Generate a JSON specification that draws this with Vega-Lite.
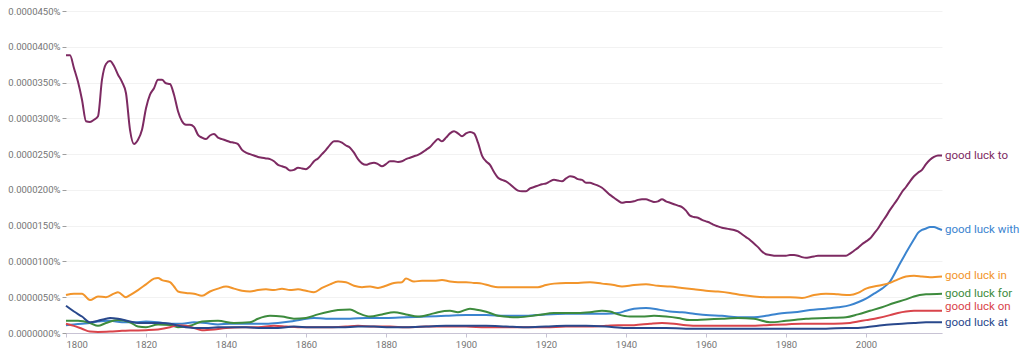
{
  "$schema": "https://vega.github.io/schema/vega-lite/v6.json",
  "width": 876,
  "height": 322,
  "autosize": "none",
  "padding": {"left": 66, "top": 11, "right": 82, "bottom": 18},
  "background": "white",
  "config": {
    "font": "Roboto",
    "view": {"stroke": null},
    "axis": {"labelFont": "Roboto", "labelColor": "#757575", "labelFontSize": 9.5, "titleFontSize": 0}
  },
  "data": {"values": [
{"n":"good luck to","y":1800,"v":0.0000388},{"n":"good luck to","y":1801,"v":0.0000388},{"n":"good luck to","y":1802,"v":0.0000370},{"n":"good luck to","y":1803,"v":0.0000351},{"n":"good luck to","y":1804,"v":0.0000326},{"n":"good luck to","y":1805,"v":0.0000296},{"n":"good luck to","y":1806,"v":0.0000295},{"n":"good luck to","y":1807,"v":0.0000298},{"n":"good luck to","y":1808,"v":0.0000303},{"n":"good luck to","y":1809,"v":0.0000354},{"n":"good luck to","y":1810,"v":0.0000376},{"n":"good luck to","y":1811,"v":0.0000380},{"n":"good luck to","y":1812,"v":0.0000373},{"n":"good luck to","y":1813,"v":0.0000361},{"n":"good luck to","y":1814,"v":0.0000351},{"n":"good luck to","y":1815,"v":0.0000335},{"n":"good luck to","y":1816,"v":0.0000284},{"n":"good luck to","y":1817,"v":0.0000264},{"n":"good luck to","y":1818,"v":0.0000270},{"n":"good luck to","y":1819,"v":0.0000284},{"n":"good luck to","y":1820,"v":0.0000314},{"n":"good luck to","y":1821,"v":0.0000333},{"n":"good luck to","y":1822,"v":0.0000342},{"n":"good luck to","y":1823,"v":0.0000354},{"n":"good luck to","y":1824,"v":0.0000354},{"n":"good luck to","y":1825,"v":0.0000349},{"n":"good luck to","y":1826,"v":0.0000348},{"n":"good luck to","y":1827,"v":0.0000333},{"n":"good luck to","y":1828,"v":0.0000310},{"n":"good luck to","y":1829,"v":0.0000296},{"n":"good luck to","y":1830,"v":0.0000291},{"n":"good luck to","y":1831,"v":0.0000291},{"n":"good luck to","y":1832,"v":0.0000288},{"n":"good luck to","y":1833,"v":0.0000277},{"n":"good luck to","y":1834,"v":0.0000273},{"n":"good luck to","y":1835,"v":0.0000271},{"n":"good luck to","y":1836,"v":0.0000276},{"n":"good luck to","y":1837,"v":0.0000278},{"n":"good luck to","y":1838,"v":0.0000273},{"n":"good luck to","y":1839,"v":0.0000271},{"n":"good luck to","y":1840,"v":0.0000269},{"n":"good luck to","y":1841,"v":0.0000267},{"n":"good luck to","y":1842,"v":0.0000266},{"n":"good luck to","y":1843,"v":0.0000264},{"n":"good luck to","y":1844,"v":0.0000256},{"n":"good luck to","y":1845,"v":0.0000252},{"n":"good luck to","y":1846,"v":0.0000250},{"n":"good luck to","y":1847,"v":0.0000248},{"n":"good luck to","y":1848,"v":0.0000246},{"n":"good luck to","y":1849,"v":0.0000245},{"n":"good luck to","y":1850,"v":0.0000244},{"n":"good luck to","y":1851,"v":0.0000243},{"n":"good luck to","y":1852,"v":0.0000240},{"n":"good luck to","y":1853,"v":0.0000235},{"n":"good luck to","y":1854,"v":0.0000233},{"n":"good luck to","y":1855,"v":0.0000231},{"n":"good luck to","y":1856,"v":0.0000227},{"n":"good luck to","y":1857,"v":0.0000228},{"n":"good luck to","y":1858,"v":0.0000231},{"n":"good luck to","y":1859,"v":0.0000230},{"n":"good luck to","y":1860,"v":0.0000229},{"n":"good luck to","y":1861,"v":0.0000233},{"n":"good luck to","y":1862,"v":0.0000240},{"n":"good luck to","y":1863,"v":0.0000244},{"n":"good luck to","y":1864,"v":0.0000250},{"n":"good luck to","y":1865,"v":0.0000256},{"n":"good luck to","y":1866,"v":0.0000263},{"n":"good luck to","y":1867,"v":0.0000268},{"n":"good luck to","y":1868,"v":0.0000268},{"n":"good luck to","y":1869,"v":0.0000266},{"n":"good luck to","y":1870,"v":0.0000262},{"n":"good luck to","y":1871,"v":0.0000259},{"n":"good luck to","y":1872,"v":0.0000252},{"n":"good luck to","y":1873,"v":0.0000243},{"n":"good luck to","y":1874,"v":0.0000237},{"n":"good luck to","y":1875,"v":0.0000235},{"n":"good luck to","y":1876,"v":0.0000237},{"n":"good luck to","y":1877,"v":0.0000238},{"n":"good luck to","y":1878,"v":0.0000236},{"n":"good luck to","y":1879,"v":0.0000233},{"n":"good luck to","y":1880,"v":0.0000236},{"n":"good luck to","y":1881,"v":0.0000240},{"n":"good luck to","y":1882,"v":0.0000240},{"n":"good luck to","y":1883,"v":0.0000239},{"n":"good luck to","y":1884,"v":0.0000240},{"n":"good luck to","y":1885,"v":0.0000243},{"n":"good luck to","y":1886,"v":0.0000245},{"n":"good luck to","y":1887,"v":0.0000247},{"n":"good luck to","y":1888,"v":0.0000249},{"n":"good luck to","y":1889,"v":0.0000252},{"n":"good luck to","y":1890,"v":0.0000256},{"n":"good luck to","y":1891,"v":0.0000260},{"n":"good luck to","y":1892,"v":0.0000266},{"n":"good luck to","y":1893,"v":0.0000271},{"n":"good luck to","y":1894,"v":0.0000268},{"n":"good luck to","y":1895,"v":0.0000273},{"n":"good luck to","y":1896,"v":0.0000279},{"n":"good luck to","y":1897,"v":0.0000282},{"n":"good luck to","y":1898,"v":0.0000279},{"n":"good luck to","y":1899,"v":0.0000275},{"n":"good luck to","y":1900,"v":0.0000279},{"n":"good luck to","y":1901,"v":0.0000281},{"n":"good luck to","y":1902,"v":0.0000279},{"n":"good luck to","y":1903,"v":0.0000266},{"n":"good luck to","y":1904,"v":0.0000248},{"n":"good luck to","y":1905,"v":0.0000240},{"n":"good luck to","y":1906,"v":0.0000235},{"n":"good luck to","y":1907,"v":0.0000225},{"n":"good luck to","y":1908,"v":0.0000217},{"n":"good luck to","y":1909,"v":0.0000214},{"n":"good luck to","y":1910,"v":0.0000212},{"n":"good luck to","y":1911,"v":0.0000208},{"n":"good luck to","y":1912,"v":0.0000203},{"n":"good luck to","y":1913,"v":0.0000199},{"n":"good luck to","y":1914,"v":0.0000198},{"n":"good luck to","y":1915,"v":0.0000198},{"n":"good luck to","y":1916,"v":0.0000202},{"n":"good luck to","y":1917,"v":0.0000204},{"n":"good luck to","y":1918,"v":0.0000206},{"n":"good luck to","y":1919,"v":0.0000208},{"n":"good luck to","y":1920,"v":0.0000209},{"n":"good luck to","y":1921,"v":0.0000212},{"n":"good luck to","y":1922,"v":0.0000214},{"n":"good luck to","y":1923,"v":0.0000213},{"n":"good luck to","y":1924,"v":0.0000212},{"n":"good luck to","y":1925,"v":0.0000216},{"n":"good luck to","y":1926,"v":0.0000219},{"n":"good luck to","y":1927,"v":0.0000218},{"n":"good luck to","y":1928,"v":0.0000215},{"n":"good luck to","y":1929,"v":0.0000214},{"n":"good luck to","y":1930,"v":0.0000210},{"n":"good luck to","y":1931,"v":0.0000210},{"n":"good luck to","y":1932,"v":0.0000208},{"n":"good luck to","y":1933,"v":0.0000206},{"n":"good luck to","y":1934,"v":0.0000203},{"n":"good luck to","y":1935,"v":0.0000198},{"n":"good luck to","y":1936,"v":0.0000193},{"n":"good luck to","y":1937,"v":0.0000189},{"n":"good luck to","y":1938,"v":0.0000185},{"n":"good luck to","y":1939,"v":0.0000182},{"n":"good luck to","y":1940,"v":0.0000183},{"n":"good luck to","y":1941,"v":0.0000183},{"n":"good luck to","y":1942,"v":0.0000184},{"n":"good luck to","y":1943,"v":0.0000186},{"n":"good luck to","y":1944,"v":0.0000187},{"n":"good luck to","y":1945,"v":0.0000187},{"n":"good luck to","y":1946,"v":0.0000185},{"n":"good luck to","y":1947,"v":0.0000183},{"n":"good luck to","y":1948,"v":0.0000184},{"n":"good luck to","y":1949,"v":0.0000187},{"n":"good luck to","y":1950,"v":0.0000184},{"n":"good luck to","y":1951,"v":0.0000182},{"n":"good luck to","y":1952,"v":0.0000180},{"n":"good luck to","y":1953,"v":0.0000178},{"n":"good luck to","y":1954,"v":0.0000176},{"n":"good luck to","y":1955,"v":0.0000171},{"n":"good luck to","y":1956,"v":0.0000164},{"n":"good luck to","y":1957,"v":0.0000162},{"n":"good luck to","y":1958,"v":0.0000161},{"n":"good luck to","y":1959,"v":0.0000158},{"n":"good luck to","y":1960,"v":0.0000156},{"n":"good luck to","y":1961,"v":0.0000154},{"n":"good luck to","y":1962,"v":0.0000151},{"n":"good luck to","y":1963,"v":0.0000149},{"n":"good luck to","y":1964,"v":0.0000147},{"n":"good luck to","y":1965,"v":0.0000146},{"n":"good luck to","y":1966,"v":0.0000145},{"n":"good luck to","y":1967,"v":0.0000144},{"n":"good luck to","y":1968,"v":0.0000142},{"n":"good luck to","y":1969,"v":0.0000138},{"n":"good luck to","y":1970,"v":0.0000134},{"n":"good luck to","y":1971,"v":0.0000130},{"n":"good luck to","y":1972,"v":0.0000125},{"n":"good luck to","y":1973,"v":0.0000120},{"n":"good luck to","y":1974,"v":0.0000114},{"n":"good luck to","y":1975,"v":0.0000110},{"n":"good luck to","y":1976,"v":0.0000109},{"n":"good luck to","y":1977,"v":0.0000108},{"n":"good luck to","y":1978,"v":0.0000108},{"n":"good luck to","y":1979,"v":0.0000108},{"n":"good luck to","y":1980,"v":0.0000108},{"n":"good luck to","y":1981,"v":0.0000109},{"n":"good luck to","y":1982,"v":0.0000109},{"n":"good luck to","y":1983,"v":0.0000108},{"n":"good luck to","y":1984,"v":0.0000106},{"n":"good luck to","y":1985,"v":0.0000105},{"n":"good luck to","y":1986,"v":0.0000106},{"n":"good luck to","y":1987,"v":0.0000107},{"n":"good luck to","y":1988,"v":0.0000108},{"n":"good luck to","y":1989,"v":0.0000108},{"n":"good luck to","y":1990,"v":0.0000108},{"n":"good luck to","y":1991,"v":0.0000108},{"n":"good luck to","y":1992,"v":0.0000108},{"n":"good luck to","y":1993,"v":0.0000108},{"n":"good luck to","y":1994,"v":0.0000108},{"n":"good luck to","y":1995,"v":0.0000108},{"n":"good luck to","y":1996,"v":0.0000111},{"n":"good luck to","y":1997,"v":0.0000115},{"n":"good luck to","y":1998,"v":0.0000119},{"n":"good luck to","y":1999,"v":0.0000124},{"n":"good luck to","y":2000,"v":0.0000128},{"n":"good luck to","y":2001,"v":0.0000132},{"n":"good luck to","y":2002,"v":0.0000139},{"n":"good luck to","y":2003,"v":0.0000146},{"n":"good luck to","y":2004,"v":0.0000155},{"n":"good luck to","y":2005,"v":0.0000163},{"n":"good luck to","y":2006,"v":0.0000172},{"n":"good luck to","y":2007,"v":0.0000180},{"n":"good luck to","y":2008,"v":0.0000188},{"n":"good luck to","y":2009,"v":0.0000197},{"n":"good luck to","y":2010,"v":0.0000204},{"n":"good luck to","y":2011,"v":0.0000212},{"n":"good luck to","y":2012,"v":0.0000219},{"n":"good luck to","y":2013,"v":0.0000224},{"n":"good luck to","y":2014,"v":0.0000228},{"n":"good luck to","y":2015,"v":0.0000236},{"n":"good luck to","y":2016,"v":0.0000242},{"n":"good luck to","y":2017,"v":0.0000246},{"n":"good luck to","y":2018,"v":0.0000248},{"n":"good luck to","y":2019,"v":0.0000248},
{"n":"good luck with","y":1800,"v":0.0000011},{"n":"good luck with","y":1802,"v":0.0000012},{"n":"good luck with","y":1804,"v":0.0000013},{"n":"good luck with","y":1806,"v":0.0000014},{"n":"good luck with","y":1808,"v":0.0000016},{"n":"good luck with","y":1811,"v":0.0000017},{"n":"good luck with","y":1814,"v":0.0000015},{"n":"good luck with","y":1817,"v":0.0000015},{"n":"good luck with","y":1820,"v":0.0000016},{"n":"good luck with","y":1823,"v":0.0000015},{"n":"good luck with","y":1826,"v":0.0000013},{"n":"good luck with","y":1829,"v":0.0000013},{"n":"good luck with","y":1832,"v":0.0000015},{"n":"good luck with","y":1835,"v":0.0000014},{"n":"good luck with","y":1838,"v":0.0000012},{"n":"good luck with","y":1841,"v":0.0000013},{"n":"good luck with","y":1844,"v":0.0000013},{"n":"good luck with","y":1847,"v":0.0000013},{"n":"good luck with","y":1850,"v":0.0000013},{"n":"good luck with","y":1853,"v":0.0000014},{"n":"good luck with","y":1856,"v":0.0000016},{"n":"good luck with","y":1859,"v":0.0000019},{"n":"good luck with","y":1862,"v":0.0000021},{"n":"good luck with","y":1865,"v":0.0000020},{"n":"good luck with","y":1868,"v":0.0000020},{"n":"good luck with","y":1871,"v":0.0000020},{"n":"good luck with","y":1875,"v":0.0000021},{"n":"good luck with","y":1880,"v":0.0000021},{"n":"good luck with","y":1885,"v":0.0000022},{"n":"good luck with","y":1890,"v":0.0000023},{"n":"good luck with","y":1895,"v":0.0000024},{"n":"good luck with","y":1900,"v":0.0000025},{"n":"good luck with","y":1905,"v":0.0000025},{"n":"good luck with","y":1910,"v":0.0000024},{"n":"good luck with","y":1915,"v":0.0000024},{"n":"good luck with","y":1920,"v":0.0000026},{"n":"good luck with","y":1925,"v":0.0000027},{"n":"good luck with","y":1930,"v":0.0000027},{"n":"good luck with","y":1935,"v":0.0000027},{"n":"good luck with","y":1938,"v":0.0000028},{"n":"good luck with","y":1940,"v":0.0000031},{"n":"good luck with","y":1942,"v":0.0000034},{"n":"good luck with","y":1945,"v":0.0000035},{"n":"good luck with","y":1948,"v":0.0000033},{"n":"good luck with","y":1951,"v":0.0000030},{"n":"good luck with","y":1954,"v":0.0000029},{"n":"good luck with","y":1957,"v":0.0000027},{"n":"good luck with","y":1960,"v":0.0000025},{"n":"good luck with","y":1964,"v":0.0000024},{"n":"good luck with","y":1968,"v":0.0000022},{"n":"good luck with","y":1972,"v":0.0000022},{"n":"good luck with","y":1975,"v":0.0000024},{"n":"good luck with","y":1978,"v":0.0000027},{"n":"good luck with","y":1982,"v":0.0000029},{"n":"good luck with","y":1986,"v":0.0000032},{"n":"good luck with","y":1990,"v":0.0000034},{"n":"good luck with","y":1993,"v":0.0000036},{"n":"good luck with","y":1996,"v":0.0000039},{"n":"good luck with","y":1998,"v":0.0000043},{"n":"good luck with","y":2000,"v":0.0000048},{"n":"good luck with","y":2002,"v":0.0000055},{"n":"good luck with","y":2004,"v":0.0000062},{"n":"good luck with","y":2006,"v":0.0000072},{"n":"good luck with","y":2008,"v":0.0000092},{"n":"good luck with","y":2010,"v":0.0000112},{"n":"good luck with","y":2012,"v":0.0000131},{"n":"good luck with","y":2013,"v":0.0000140},{"n":"good luck with","y":2014,"v":0.0000144},{"n":"good luck with","y":2015,"v":0.0000146},{"n":"good luck with","y":2016,"v":0.0000148},{"n":"good luck with","y":2017,"v":0.0000148},{"n":"good luck with","y":2018,"v":0.0000146},{"n":"good luck with","y":2019,"v":0.0000144},
{"n":"good luck in","y":1800,"v":0.0000053},{"n":"good luck in","y":1802,"v":0.0000055},{"n":"good luck in","y":1804,"v":0.0000055},{"n":"good luck in","y":1806,"v":0.0000046},{"n":"good luck in","y":1808,"v":0.0000051},{"n":"good luck in","y":1810,"v":0.0000050},{"n":"good luck in","y":1812,"v":0.0000055},{"n":"good luck in","y":1813,"v":0.0000057},{"n":"good luck in","y":1815,"v":0.0000050},{"n":"good luck in","y":1816,"v":0.0000053},{"n":"good luck in","y":1818,"v":0.0000060},{"n":"good luck in","y":1820,"v":0.0000068},{"n":"good luck in","y":1822,"v":0.0000076},{"n":"good luck in","y":1823,"v":0.0000077},{"n":"good luck in","y":1824,"v":0.0000074},{"n":"good luck in","y":1826,"v":0.0000071},{"n":"good luck in","y":1827,"v":0.0000065},{"n":"good luck in","y":1828,"v":0.0000058},{"n":"good luck in","y":1830,"v":0.0000056},{"n":"good luck in","y":1832,"v":0.0000055},{"n":"good luck in","y":1834,"v":0.0000052},{"n":"good luck in","y":1836,"v":0.0000058},{"n":"good luck in","y":1838,"v":0.0000062},{"n":"good luck in","y":1840,"v":0.0000065},{"n":"good luck in","y":1842,"v":0.0000062},{"n":"good luck in","y":1844,"v":0.0000059},{"n":"good luck in","y":1846,"v":0.0000058},{"n":"good luck in","y":1848,"v":0.0000060},{"n":"good luck in","y":1850,"v":0.0000061},{"n":"good luck in","y":1852,"v":0.0000060},{"n":"good luck in","y":1854,"v":0.0000062},{"n":"good luck in","y":1856,"v":0.0000060},{"n":"good luck in","y":1858,"v":0.0000061},{"n":"good luck in","y":1860,"v":0.0000059},{"n":"good luck in","y":1862,"v":0.0000057},{"n":"good luck in","y":1864,"v":0.0000063},{"n":"good luck in","y":1866,"v":0.0000068},{"n":"good luck in","y":1868,"v":0.0000072},{"n":"good luck in","y":1870,"v":0.0000071},{"n":"good luck in","y":1872,"v":0.0000066},{"n":"good luck in","y":1874,"v":0.0000064},{"n":"good luck in","y":1876,"v":0.0000065},{"n":"good luck in","y":1878,"v":0.0000063},{"n":"good luck in","y":1880,"v":0.0000066},{"n":"good luck in","y":1882,"v":0.0000070},{"n":"good luck in","y":1884,"v":0.0000071},{"n":"good luck in","y":1885,"v":0.0000076},{"n":"good luck in","y":1887,"v":0.0000072},{"n":"good luck in","y":1889,"v":0.0000073},{"n":"good luck in","y":1892,"v":0.0000073},{"n":"good luck in","y":1894,"v":0.0000074},{"n":"good luck in","y":1896,"v":0.0000072},{"n":"good luck in","y":1898,"v":0.0000071},{"n":"good luck in","y":1900,"v":0.0000071},{"n":"good luck in","y":1902,"v":0.0000070},{"n":"good luck in","y":1904,"v":0.0000069},{"n":"good luck in","y":1906,"v":0.0000066},{"n":"good luck in","y":1908,"v":0.0000064},{"n":"good luck in","y":1912,"v":0.0000064},{"n":"good luck in","y":1916,"v":0.0000064},{"n":"good luck in","y":1918,"v":0.0000064},{"n":"good luck in","y":1920,"v":0.0000067},{"n":"good luck in","y":1922,"v":0.0000069},{"n":"good luck in","y":1925,"v":0.0000070},{"n":"good luck in","y":1928,"v":0.0000070},{"n":"good luck in","y":1931,"v":0.0000071},{"n":"good luck in","y":1934,"v":0.0000069},{"n":"good luck in","y":1937,"v":0.0000067},{"n":"good luck in","y":1939,"v":0.0000065},{"n":"good luck in","y":1942,"v":0.0000067},{"n":"good luck in","y":1945,"v":0.0000068},{"n":"good luck in","y":1948,"v":0.0000066},{"n":"good luck in","y":1951,"v":0.0000065},{"n":"good luck in","y":1954,"v":0.0000063},{"n":"good luck in","y":1957,"v":0.0000061},{"n":"good luck in","y":1960,"v":0.0000059},{"n":"good luck in","y":1963,"v":0.0000058},{"n":"good luck in","y":1966,"v":0.0000056},{"n":"good luck in","y":1969,"v":0.0000053},{"n":"good luck in","y":1972,"v":0.0000051},{"n":"good luck in","y":1975,"v":0.0000050},{"n":"good luck in","y":1978,"v":0.0000050},{"n":"good luck in","y":1981,"v":0.0000050},{"n":"good luck in","y":1984,"v":0.0000049},{"n":"good luck in","y":1987,"v":0.0000053},{"n":"good luck in","y":1990,"v":0.0000055},{"n":"good luck in","y":1993,"v":0.0000054},{"n":"good luck in","y":1996,"v":0.0000053},{"n":"good luck in","y":1998,"v":0.0000056},{"n":"good luck in","y":2000,"v":0.0000062},{"n":"good luck in","y":2003,"v":0.0000066},{"n":"good luck in","y":2006,"v":0.0000070},{"n":"good luck in","y":2008,"v":0.0000075},{"n":"good luck in","y":2010,"v":0.0000079},{"n":"good luck in","y":2012,"v":0.0000080},{"n":"good luck in","y":2014,"v":0.0000079},{"n":"good luck in","y":2016,"v":0.0000078},{"n":"good luck in","y":2019,"v":0.0000079},
{"n":"good luck for","y":1800,"v":0.0000017},{"n":"good luck for","y":1803,"v":0.0000017},{"n":"good luck for","y":1806,"v":0.0000014},{"n":"good luck for","y":1808,"v":0.0000010},{"n":"good luck for","y":1810,"v":0.0000014},{"n":"good luck for","y":1813,"v":0.0000018},{"n":"good luck for","y":1816,"v":0.0000015},{"n":"good luck for","y":1818,"v":0.0000009},{"n":"good luck for","y":1820,"v":0.0000008},{"n":"good luck for","y":1823,"v":0.0000012},{"n":"good luck for","y":1826,"v":0.0000011},{"n":"good luck for","y":1828,"v":0.0000008},{"n":"good luck for","y":1831,"v":0.0000010},{"n":"good luck for","y":1834,"v":0.0000016},{"n":"good luck for","y":1838,"v":0.0000017},{"n":"good luck for","y":1842,"v":0.0000014},{"n":"good luck for","y":1846,"v":0.0000015},{"n":"good luck for","y":1848,"v":0.0000020},{"n":"good luck for","y":1851,"v":0.0000024},{"n":"good luck for","y":1854,"v":0.0000023},{"n":"good luck for","y":1857,"v":0.0000020},{"n":"good luck for","y":1860,"v":0.0000021},{"n":"good luck for","y":1863,"v":0.0000026},{"n":"good luck for","y":1866,"v":0.0000030},{"n":"good luck for","y":1868,"v":0.0000032},{"n":"good luck for","y":1871,"v":0.0000033},{"n":"good luck for","y":1873,"v":0.0000028},{"n":"good luck for","y":1876,"v":0.0000023},{"n":"good luck for","y":1879,"v":0.0000026},{"n":"good luck for","y":1882,"v":0.0000029},{"n":"good luck for","y":1885,"v":0.0000026},{"n":"good luck for","y":1888,"v":0.0000023},{"n":"good luck for","y":1891,"v":0.0000026},{"n":"good luck for","y":1893,"v":0.0000029},{"n":"good luck for","y":1896,"v":0.0000031},{"n":"good luck for","y":1898,"v":0.0000029},{"n":"good luck for","y":1901,"v":0.0000034},{"n":"good luck for","y":1904,"v":0.0000031},{"n":"good luck for","y":1906,"v":0.0000028},{"n":"good luck for","y":1908,"v":0.0000024},{"n":"good luck for","y":1913,"v":0.0000022},{"n":"good luck for","y":1918,"v":0.0000025},{"n":"good luck for","y":1922,"v":0.0000028},{"n":"good luck for","y":1928,"v":0.0000028},{"n":"good luck for","y":1931,"v":0.0000029},{"n":"good luck for","y":1934,"v":0.0000031},{"n":"good luck for","y":1936,"v":0.0000030},{"n":"good luck for","y":1938,"v":0.0000026},{"n":"good luck for","y":1941,"v":0.0000023},{"n":"good luck for","y":1944,"v":0.0000023},{"n":"good luck for","y":1947,"v":0.0000024},{"n":"good luck for","y":1950,"v":0.0000023},{"n":"good luck for","y":1953,"v":0.0000021},{"n":"good luck for","y":1956,"v":0.0000018},{"n":"good luck for","y":1960,"v":0.0000019},{"n":"good luck for","y":1964,"v":0.0000020},{"n":"good luck for","y":1968,"v":0.0000021},{"n":"good luck for","y":1972,"v":0.0000020},{"n":"good luck for","y":1976,"v":0.0000015},{"n":"good luck for","y":1980,"v":0.0000017},{"n":"good luck for","y":1985,"v":0.0000020},{"n":"good luck for","y":1990,"v":0.0000021},{"n":"good luck for","y":1995,"v":0.0000022},{"n":"good luck for","y":1998,"v":0.0000026},{"n":"good luck for","y":2001,"v":0.0000031},{"n":"good luck for","y":2004,"v":0.0000036},{"n":"good luck for","y":2007,"v":0.0000042},{"n":"good luck for","y":2010,"v":0.0000047},{"n":"good luck for","y":2012,"v":0.0000051},{"n":"good luck for","y":2015,"v":0.0000054},{"n":"good luck for","y":2019,"v":0.0000055},
{"n":"good luck on","y":1800,"v":0.0000013},{"n":"good luck on","y":1802,"v":0.0000010},{"n":"good luck on","y":1804,"v":0.0000006},{"n":"good luck on","y":1806,"v":0.0000002},{"n":"good luck on","y":1808,"v":0.00000015},{"n":"good luck on","y":1811,"v":0.0000002},{"n":"good luck on","y":1814,"v":0.0000003},{"n":"good luck on","y":1817,"v":0.00000035},{"n":"good luck on","y":1820,"v":0.0000004},{"n":"good luck on","y":1823,"v":0.0000005},{"n":"good luck on","y":1826,"v":0.0000008},{"n":"good luck on","y":1828,"v":0.0000011},{"n":"good luck on","y":1830,"v":0.0000010},{"n":"good luck on","y":1832,"v":0.0000007},{"n":"good luck on","y":1834,"v":0.0000004},{"n":"good luck on","y":1837,"v":0.0000005},{"n":"good luck on","y":1840,"v":0.0000007},{"n":"good luck on","y":1844,"v":0.0000008},{"n":"good luck on","y":1848,"v":0.0000008},{"n":"good luck on","y":1852,"v":0.0000010},{"n":"good luck on","y":1855,"v":0.0000009},{"n":"good luck on","y":1858,"v":0.0000008},{"n":"good luck on","y":1862,"v":0.0000008},{"n":"good luck on","y":1866,"v":0.0000008},{"n":"good luck on","y":1870,"v":0.0000009},{"n":"good luck on","y":1873,"v":0.0000010},{"n":"good luck on","y":1877,"v":0.0000009},{"n":"good luck on","y":1881,"v":0.0000009},{"n":"good luck on","y":1885,"v":0.0000008},{"n":"good luck on","y":1890,"v":0.0000009},{"n":"good luck on","y":1895,"v":0.0000009},{"n":"good luck on","y":1900,"v":0.0000009},{"n":"good luck on","y":1905,"v":0.0000008},{"n":"good luck on","y":1910,"v":0.0000008},{"n":"good luck on","y":1915,"v":0.0000008},{"n":"good luck on","y":1920,"v":0.0000008},{"n":"good luck on","y":1925,"v":0.0000009},{"n":"good luck on","y":1930,"v":0.0000009},{"n":"good luck on","y":1935,"v":0.0000010},{"n":"good luck on","y":1938,"v":0.0000011},{"n":"good luck on","y":1942,"v":0.0000011},{"n":"good luck on","y":1946,"v":0.0000013},{"n":"good luck on","y":1949,"v":0.0000014},{"n":"good luck on","y":1952,"v":0.0000013},{"n":"good luck on","y":1955,"v":0.0000011},{"n":"good luck on","y":1958,"v":0.0000010},{"n":"good luck on","y":1962,"v":0.0000010},{"n":"good luck on","y":1966,"v":0.0000010},{"n":"good luck on","y":1970,"v":0.0000010},{"n":"good luck on","y":1975,"v":0.0000011},{"n":"good luck on","y":1980,"v":0.0000012},{"n":"good luck on","y":1984,"v":0.0000013},{"n":"good luck on","y":1988,"v":0.0000013},{"n":"good luck on","y":1992,"v":0.0000013},{"n":"good luck on","y":1996,"v":0.0000014},{"n":"good luck on","y":1998,"v":0.0000016},{"n":"good luck on","y":2000,"v":0.0000018},{"n":"good luck on","y":2003,"v":0.0000021},{"n":"good luck on","y":2006,"v":0.0000025},{"n":"good luck on","y":2008,"v":0.0000028},{"n":"good luck on","y":2010,"v":0.0000030},{"n":"good luck on","y":2012,"v":0.0000031},{"n":"good luck on","y":2015,"v":0.0000031},{"n":"good luck on","y":2019,"v":0.0000031},
{"n":"good luck at","y":1800,"v":0.0000038},{"n":"good luck at","y":1802,"v":0.0000030},{"n":"good luck at","y":1804,"v":0.0000023},{"n":"good luck at","y":1806,"v":0.0000015},{"n":"good luck at","y":1808,"v":0.0000017},{"n":"good luck at","y":1810,"v":0.0000020},{"n":"good luck at","y":1811,"v":0.0000021},{"n":"good luck at","y":1813,"v":0.0000020},{"n":"good luck at","y":1816,"v":0.0000016},{"n":"good luck at","y":1818,"v":0.0000014},{"n":"good luck at","y":1821,"v":0.0000014},{"n":"good luck at","y":1824,"v":0.0000014},{"n":"good luck at","y":1826,"v":0.0000013},{"n":"good luck at","y":1829,"v":0.0000009},{"n":"good luck at","y":1832,"v":0.0000007},{"n":"good luck at","y":1835,"v":0.0000007},{"n":"good luck at","y":1838,"v":0.0000008},{"n":"good luck at","y":1841,"v":0.0000008},{"n":"good luck at","y":1845,"v":0.0000008},{"n":"good luck at","y":1849,"v":0.0000007},{"n":"good luck at","y":1853,"v":0.0000007},{"n":"good luck at","y":1857,"v":0.0000009},{"n":"good luck at","y":1861,"v":0.0000008},{"n":"good luck at","y":1865,"v":0.0000008},{"n":"good luck at","y":1869,"v":0.0000008},{"n":"good luck at","y":1873,"v":0.0000009},{"n":"good luck at","y":1877,"v":0.0000009},{"n":"good luck at","y":1881,"v":0.0000008},{"n":"good luck at","y":1885,"v":0.0000008},{"n":"good luck at","y":1890,"v":0.0000009},{"n":"good luck at","y":1895,"v":0.0000010},{"n":"good luck at","y":1900,"v":0.0000010},{"n":"good luck at","y":1905,"v":0.0000010},{"n":"good luck at","y":1910,"v":0.0000009},{"n":"good luck at","y":1915,"v":0.0000008},{"n":"good luck at","y":1920,"v":0.0000009},{"n":"good luck at","y":1925,"v":0.0000010},{"n":"good luck at","y":1930,"v":0.0000010},{"n":"good luck at","y":1935,"v":0.0000009},{"n":"good luck at","y":1940,"v":0.0000007},{"n":"good luck at","y":1945,"v":0.0000007},{"n":"good luck at","y":1950,"v":0.0000007},{"n":"good luck at","y":1955,"v":0.0000006},{"n":"good luck at","y":1960,"v":0.0000006},{"n":"good luck at","y":1965,"v":0.0000006},{"n":"good luck at","y":1970,"v":0.0000006},{"n":"good luck at","y":1975,"v":0.0000006},{"n":"good luck at","y":1980,"v":0.0000006},{"n":"good luck at","y":1985,"v":0.0000006},{"n":"good luck at","y":1990,"v":0.0000006},{"n":"good luck at","y":1995,"v":0.0000007},{"n":"good luck at","y":1998,"v":0.0000007},{"n":"good luck at","y":2000,"v":0.0000008},{"n":"good luck at","y":2003,"v":0.0000010},{"n":"good luck at","y":2006,"v":0.0000012},{"n":"good luck at","y":2009,"v":0.0000013},{"n":"good luck at","y":2012,"v":0.0000014},{"n":"good luck at","y":2015,"v":0.0000015},{"n":"good luck at","y":2019,"v":0.0000015}
  ]},
  "encoding": {
    "x": {"field": "y", "type": "quantitative",
      "scale": {"domain": [1800, 2019], "nice": false, "zero": false},
      "axis": {"title": null, "values": [1800,1820,1840,1860,1880,1900,1920,1940,1960,1980,2000], "format": "d", "grid": false, "domainColor": "#c8c3d4", "tickColor": "#c8c3d4", "tickSize": 4, "labelPadding": 2, "labelFontSize": 9.5}},
    "y": {"field": "v", "type": "quantitative",
      "scale": {"domain": [0, 0.000045], "nice": false},
      "axis": {"title": null, "values": [0,0.000005,0.00001,0.000015,0.00002,0.000025,0.00003,0.000035,0.00004,0.000045], "labelExpr": "format(datum.value, '.7f') + '%'", "domain": false, "gridColor": "#f2f2f2", "tickColor": "#9e9e9e", "tickSize": 4, "labelPadding": 2}},
    "color": {"field": "n", "type": "nominal", "legend": null,
      "scale": {"domain": ["good luck to","good luck with","good luck in","good luck for","good luck on","good luck at"],
                "range": ["#7d2a62","#3b84cf","#f2952b","#3d8b3d","#d9444b","#29488c"]}}
  },
  "layer": [
    {"mark": {"type": "line", "interpolate": "monotone", "strokeWidth": 2}},
    {"transform": [{"filter": "datum.y == 2019 && datum.n != 'good luck on' && datum.n != 'good luck at'"}],
     "mark": {"type": "text", "align": "left", "baseline": "middle", "dx": 3, "fontSize": 11.5, "font": "Roboto"},
     "encoding": {"text": {"field": "n"}}},
    {"transform": [{"filter": "datum.y == 2019 && datum.n == 'good luck on'"}],
     "mark": {"type": "text", "align": "left", "baseline": "middle", "dx": 3, "dy": -4, "fontSize": 11.5, "font": "Roboto"},
     "encoding": {"text": {"field": "n"}}},
    {"transform": [{"filter": "datum.y == 2019 && datum.n == 'good luck at'"}],
     "mark": {"type": "text", "align": "left", "baseline": "middle", "dx": 3, "dy": 1, "fontSize": 11.5, "font": "Roboto"},
     "encoding": {"text": {"field": "n"}}}
  ]
}
